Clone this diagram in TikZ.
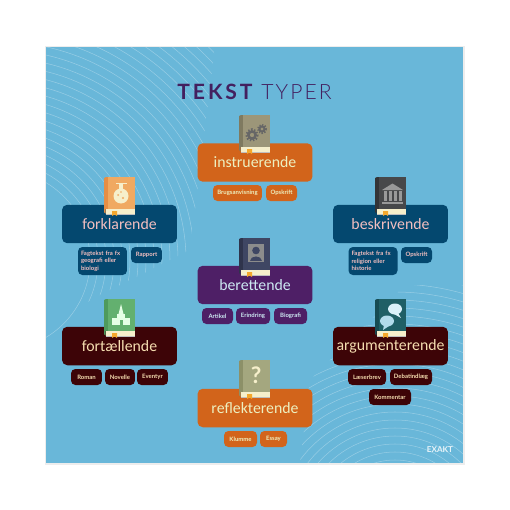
\documentclass[tikz,border=0pt]{standalone}
\usepackage{fontspec}
\setmainfont{Lato}
\newfontfamily\titlefont[LetterSpace=14]{Lato}
\newfontfamily\titlethin[LetterSpace=10]{Lato Light}
\newfontfamily\headfont{Carlito}
\usepackage{xcolor}
\usetikzlibrary{arrows.meta, positioning, shapes.geometric}

\definecolor{skybg}{HTML}{69B7D9}
\definecolor{orangebox}{HTML}{D2641B}
\definecolor{navybox}{HTML}{04486F}
\definecolor{purplebox}{HTML}{4E1F66}
\definecolor{maroonbox}{HTML}{3D0407}
\definecolor{titlepurple}{HTML}{43205F}
\definecolor{pagecream}{HTML}{F6EFCB}
\definecolor{markorange}{HTML}{F4A72C}
\definecolor{pinktext}{HTML}{F2BFC0}
\definecolor{icetext}{HTML}{CDE9F2}
\definecolor{sandtext}{HTML}{F5DDB0}
\definecolor{limetext}{HTML}{EDF0C0}

% one book: x, y, cover, spine, icon drawn in book coordinates
\newcommand{\drawbook}[5]{
  \begin{scope}[shift={(#1,#2)}]
    \fill[#3] (0,1) rectangle (31,32);
    \fill[#4] (0,1) -- (2,0) -- (4,0) -- (4,32) -- (1.5,32) -- (1.5,36.5) -- (0,35) -- cycle;
    \fill[#3] (4,0) rectangle (31,32);
    \fill[pagecream] (1.5,32) rectangle (31,37);
    \fill[black!25] (1.5,36.5) rectangle (31,37);
    \fill[markorange] (8,34) -- (13,34) -- (13,39) -- (10.5,37.5) -- (8,39) -- cycle;
    #5
  \end{scope}
}

\begin{document}
\begin{tikzpicture}[
  x=0.02cm, y=-0.02cm,
  headbox/.style={rounded corners=3pt, minimum width=2.3cm, minimum height=0.77cm, inner sep=0pt, font=\headfont\fontsize{9}{10}\selectfont},
  tagbox/.style={rounded corners=2.5pt, minimum height=0.32cm, inner sep=0pt, align=left, font=\fontsize{3.4}{4.3}\selectfont\bfseries},
  orangehead/.style={headbox, fill=orangebox, text=limetext},
  orangetag/.style={tagbox, fill=orangebox, text=limetext},
  navyhead/.style={headbox, fill=navybox, text=pinktext},
  navytag/.style={tagbox, fill=navybox, text=pinktext},
  purplehead/.style={headbox, fill=purplebox, text=icetext},
  purpletag/.style={tagbox, fill=purplebox, text=icetext},
  maroonhead/.style={headbox, fill=maroonbox, text=sandtext},
  maroontag/.style={tagbox, fill=maroonbox, text=sandtext},
  ripple/.style={white, opacity=0.3, line width=0.3pt},
]
\useasboundingbox (0,0) rectangle (510,510);

% Panel with ripple lines
\fill[white] (0,0) rectangle (510,510);
\fill[black!7] (45,46) rectangle (465,465);
\fill[skybg] (46,47) rectangle (463,463);
\begin{scope}
  \clip (46,47) -- (215,47) -- (190,250) -- (90,300) -- (46,345) -- cycle;
  \foreach \r in {90,98,...,298}
    \draw[ripple] (0,260) circle (\r);
\end{scope}
\begin{scope}
  \clip (300,463) -- (463,463) -- (463,285) -- (405,285) -- (310,380) -- cycle;
  \foreach \r in {70,78,...,262}
    \draw[ripple] (395,530) circle (\r);
\end{scope}

% Title
\node[font=\titlefont\bfseries\fontsize{12}{12}\selectfont, text=titlepurple, anchor=west, inner sep=0pt] (title-a) at (177,92) {TEKST};
\node[font=\titlethin\fontsize{12}{12}\selectfont, text=titlepurple, anchor=west, inner sep=0pt] (title-b) at (261,92) {TYPER};

% Head boxes
\node[orangehead] (instruerende) at (255,162.5) {instruerende};
\node[navyhead] (forklarende) at (119.5,224) {forklarende};
\node[navyhead] (beskrivende) at (390.5,224) {beskrivende};
\node[purplehead] (berettende) at (255,285) {berettende};
\node[maroonhead] (fortaellende) at (119.5,346) {fortællende};
\node[maroonhead] (argumenterende) at (390.5,346) {argumenterende};
\node[orangehead] (reflekterende) at (255,408) {reflekterende};

% Tags
\node[orangetag, minimum width=0.98cm] (brugs) at (237.5,193) {Brugsanvisning};
\node[orangetag, minimum width=0.62cm] (opskrift-a) at (281.5,193) {Opskrift};
\node[navytag, minimum width=0.98cm, minimum height=0.56cm, text width=0.86cm] (fagtekst-a) at (102.5,261) {Fagtekst fra fx\\geografi eller\\biologi};
\node[navytag, minimum width=0.62cm] (rapport) at (146.5,255) {Rapport};
\node[navytag, minimum width=0.98cm, minimum height=0.56cm, text width=0.86cm] (fagtekst-b) at (373,261) {Fagtekst fra fx\\religion eller\\historie};
\node[navytag, minimum width=0.62cm] (opskrift-b) at (416.5,255) {Opskrift};
\node[purpletag, minimum width=0.62cm] (artikel) at (217.5,316) {Artikel};
\node[purpletag, minimum width=0.68cm] (erindring) at (253,316) {Erindring};
\node[purpletag, minimum width=0.66cm] (biografi) at (290.5,316) {Biografi};
\node[maroontag, minimum width=0.62cm] (roman) at (86.5,377) {Roman};
\node[maroontag, minimum width=0.6cm] (novelle) at (120,377) {Novelle};
\node[maroontag, minimum width=0.62cm] (eventyr) at (152.5,377) {Eventyr};
\node[maroontag, minimum width=0.76cm] (laeserbrev) at (367,377) {Læserbrev};
\node[maroontag, minimum width=0.84cm] (debat) at (411,377) {Debatindlæg};
\node[maroontag, minimum width=0.84cm] (kommentar) at (390,397) {Kommentar};
\node[orangetag, minimum width=0.66cm] (klumme) at (240.5,439) {Klumme};
\node[orangetag, minimum width=0.54cm] (essay) at (273.5,439) {Essay};

% Books
\definecolor{gearcover}{HTML}{9C9679}
\definecolor{gearspine}{HTML}{7F7A60}
\definecolor{flaskcover}{HTML}{F0A961}
\definecolor{flaskspine}{HTML}{E58E45}
\definecolor{templecover}{HTML}{47484A}
\definecolor{templespine}{HTML}{333436}
\definecolor{facecover}{HTML}{3F4663}
\definecolor{facespine}{HTML}{2F344C}
\definecolor{castlecover}{HTML}{63B06F}
\definecolor{castlespine}{HTML}{4E9A5C}
\definecolor{bubblecover}{HTML}{1F5F66}
\definecolor{bubblespine}{HTML}{164B52}
\definecolor{askcover}{HTML}{A4A77F}
\definecolor{askspine}{HTML}{8C9068}
\drawbook{239}{115}{gearcover}{gearspine}{
  \draw[black!60, line width=1.4pt] (13,20) circle (3.6);
  \draw[black!60, line width=1.5pt, dash pattern=on 0.8pt off 0.9pt] (13,20) circle (5.4);
  \draw[black!60, line width=1.1pt] (23,14) circle (2.6);
  \draw[black!60, line width=1.2pt, dash pattern=on 0.7pt off 0.8pt] (23,14) circle (4);
}
\drawbook{104}{177}{flaskcover}{flaskspine}{
  \fill[pagecream] (15,6) rectangle (19,12);
  \fill[pagecream] (11.5,5.5) rectangle (22.5,7);
  \fill[pagecream] (17,19) circle (7.5);
  \fill[flaskcover] (14,18) circle (1) (19,21) circle (1.2) (17,15) circle (0.8);
}
\drawbook{375}{177}{templecover}{templespine}{
  \fill[black!40] (7,13) -- (17.5,6.5) -- (28,13) -- cycle;
  \foreach \cx in {9,14,19,24}
    \fill[black!40] (\cx,14) rectangle ++(2.6,10);
  \fill[black!40] (7,24.5) rectangle (28,27);
}
\drawbook{239}{238}{facecover}{facespine}{
  \fill[black!45] (9,6) rectangle (25,24);
  \fill[facecover] (17,12.5) circle (3.8);
  \fill[facecover] (11,23) .. controls (11,16.5) and (23,16.5) .. (23,23) -- cycle;
}
\drawbook{104}{299}{castlecover}{castlespine}{
  \fill[white!90!green] (13,15) rectangle (21,26);
  \fill[white!90!green] (8,19) rectangle (26,26);
  \fill[white!90!green] (17,5) -- (19.5,15) -- (14.5,15) -- cycle;
  \fill[castlecover] (15.5,21) rectangle (18.5,26);
}
\drawbook{375}{299}{bubblecover}{bubblespine}{
  \fill[black!10!cyan!15!white] (20,10) ellipse (7 and 5.5);
  \fill[black!10!cyan!15!white] (23,14) -- (26,19) -- (19,15) -- cycle;
  \fill[cyan!30!white!85!gray] (12,22) ellipse (7 and 5.5);
  \fill[cyan!30!white!85!gray] (9,26) -- (8,31) -- (14,27) -- cycle;
}
\drawbook{239}{360}{askcover}{askspine}{
  \node[font=\fontsize{13}{13}\selectfont\bfseries, text=pagecream, inner sep=0pt] (question) at (17,15) {?};
}

% Logo
\node[font=\fontsize{4.6}{5}\selectfont\bfseries, text=white!85!skybg, inner sep=0pt] (logo) at (440,449.5) {EXAKT};
\end{tikzpicture}
\end{document}
